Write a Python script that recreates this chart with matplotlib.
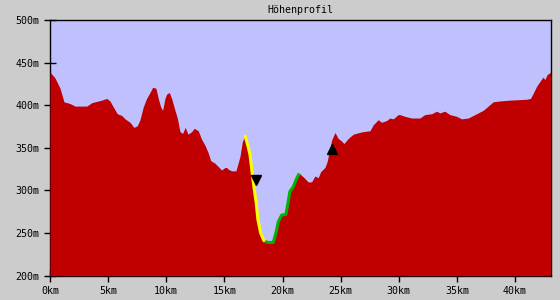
import matplotlib
matplotlib.use("Agg")
import matplotlib.pyplot as plt
import numpy as np

# distance along the route (km) and elevation (m)
dist_km = [0.00, 0.43, 0.86, 1.20, 1.72, 2.15, 3.16, 3.59, 4.45, 4.88,
           5.16, 5.44, 5.79, 6.17, 6.45, 6.88, 7.22, 7.51, 7.74, 8.02,
           8.31, 8.60, 8.83, 9.11, 9.31, 9.52, 9.69, 9.89, 10.03, 10.26,
           10.46, 10.75, 10.95, 11.18, 11.41, 11.63, 11.87, 12.18, 12.41, 12.75,
           13.04, 13.33, 13.61, 13.82, 14.19, 14.33, 14.62, 14.76, 15.05, 15.19,
           15.33, 15.62, 15.99, 16.14, 16.34, 16.54, 16.77, 17.05, 17.20, 17.43,
           17.54, 17.74, 17.88, 18.12, 18.37, 18.49, 18.77, 19.20, 19.43, 19.63,
           19.92, 20.29, 20.44, 20.64, 20.92, 21.21, 21.44, 21.78, 22.21, 22.50,
           22.79, 23.07, 23.28, 23.65, 23.84, 24.02, 24.22, 24.51, 24.79, 25.08,
           25.28, 25.65, 26.08, 26.60, 26.94, 27.52, 27.80, 28.23, 28.52, 28.95,
           29.23, 29.52, 29.95, 30.09, 30.52, 31.10, 31.81, 32.24, 32.82, 33.25,
           33.53, 33.96, 34.39, 34.97, 35.40, 35.97, 36.26, 36.83, 37.26, 37.69,
           38.12, 38.69, 39.55, 40.99, 41.33, 41.56, 41.85, 42.19, 42.42, 42.56,
           42.76, 42.99, 43.05]
elev_m = [439, 432, 420, 404, 402, 399, 399, 403, 406, 408,
          405, 398, 390, 388, 384, 380, 374, 376, 383, 398,
          408, 415, 421, 420, 408, 398, 394, 408, 413, 415,
          408, 394, 385, 369, 367, 374, 366, 369, 373, 370,
          360, 353, 344, 335, 332, 330, 326, 324, 327, 327,
          325, 323, 323, 330, 340, 357, 365, 351, 342, 316,
          304, 285, 266, 250, 242, 240, 239, 239, 250, 263,
          271, 272, 283, 299, 304, 314, 320, 316, 310, 310,
          317, 315, 322, 327, 334, 346, 359, 368, 361, 358,
          355, 361, 366, 368, 369, 370, 377, 383, 380, 382,
          385, 384, 389, 389, 387, 385, 385, 389, 390, 393,
          391, 393, 389, 387, 384, 385, 387, 391, 394, 399,
          404, 405, 406, 407, 408, 414, 422, 429, 433, 430,
          436, 438, 439]

# highlighted sections (km ranges)
descent_km = (16.77, 18.49)
ascent_km = (18.49, 21.44)

# waypoint markers
marker_km = [17.71, 24.22]
marker_m = [312, 349]
marker_kind = ["v", "^"]

x_ticks = [0, 5, 10, 15, 20, 25, 30, 35, 40]
y_ticks = [200, 250, 300, 350, 400, 450, 500]

x = np.array(dist_km)
y = np.array(elev_m)

plt.rcParams["font.family"] = "DejaVu Sans Mono"
plt.rcParams["font.size"] = 7.2

fig = plt.figure(figsize=(5.6, 3.0), dpi=100, facecolor="#cccccc")
ax = fig.add_axes([50 / 560, 1 - 275.7 / 300, 500.5 / 560, 255.7 / 300])
ax.set_facecolor("#c0c0ff")
ax.set_axisbelow(True)

ax.fill_between(x, y, 200, color="#c00000", lw=0, zorder=1)

m = (x >= descent_km[0]) & (x <= descent_km[1])
ax.plot(x[m], y[m], color="#ffff00", lw=2.2, zorder=3, solid_capstyle="butt")
m = (x >= ascent_km[0]) & (x <= ascent_km[1])
ax.plot(x[m], y[m], color="#00b400", lw=2.2, zorder=3, solid_capstyle="butt")

for k, h, mk in zip(marker_km, marker_m, marker_kind):
    ax.plot(k, h, marker=mk, color="black", ms=6.5, lw=0, zorder=4)

ax.set_xlim(0, 43.05)
ax.set_ylim(200, 500)
ax.set_xticks(x_ticks)
ax.set_xticklabels([f"{v}km" for v in x_ticks])
ax.set_yticks(y_ticks)
ax.set_yticklabels([f"{v}m" for v in y_ticks])
ax.tick_params(direction="inout", length=9, width=1, color="black", pad=3)

for s in ax.spines.values():
    s.set_zorder(0.5)
    s.set_linewidth(1.0)
    s.set_color("black")

ax.set_title("Höhenprofil", pad=5, fontsize=7.2)

fig.savefig("out.png", dpi=100, facecolor=fig.get_facecolor())
